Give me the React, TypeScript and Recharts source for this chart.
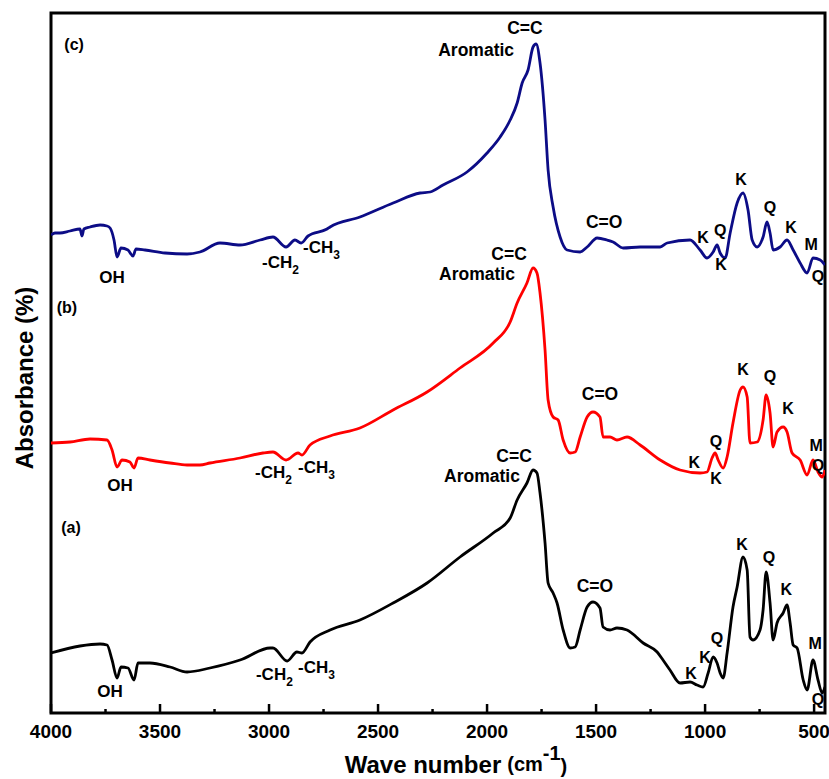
import React from 'react';
import { LineChart, Line, XAxis, YAxis, ReferenceArea, ReferenceDot } from 'recharts';

// Wavenumbers (cm-1) and absorbance (arbitrary, stacked) for each spectrum
const wnC = [4000, 3982, 3959, 3913, 3867, 3858, 3849, 3821, 3775, 3743, 3729, 3711, 3697, 3679, 3647, 3624, 3610, 3569, 3477, 3376, 3317, 3225, 3133, 3041, 2982, 2922, 2881, 2853, 2821, 2734, 2720, 2583, 2431, 2307, 2261, 2202, 2092, 2000, 1940, 1894, 1862, 1839, 1812, 1789, 1775, 1757, 1734, 1720, 1697, 1665, 1633, 1573, 1541, 1495, 1450, 1422, 1376, 1298, 1206, 1174, 1069, 1023, 991, 963, 945, 931, 908, 885, 853, 826, 803, 784, 761, 734, 716, 702, 688, 656, 624, 596, 564, 532, 505, 472, 450];
const absC = [478, 480, 480, 482, 484, 477, 484, 486, 488, 487, 485, 473, 456, 465, 463, 457, 464, 463, 460, 459, 461, 470, 468, 473, 476, 466, 473, 470, 477, 484, 486, 496, 510, 520, 521, 528, 541, 560, 576, 593, 610, 630, 643, 666, 669, 650, 593, 543, 506, 476, 463, 461, 466, 475, 473, 471, 465, 466, 466, 470, 473, 463, 455, 461, 468, 460, 455, 480, 510, 520, 503, 473, 466, 476, 491, 480, 463, 466, 473, 463, 450, 440, 455, 453, 448];

const wnB = [4000, 3913, 3821, 3743, 3720, 3697, 3674, 3638, 3619, 3601, 3546, 3454, 3376, 3317, 3271, 3133, 3028, 2982, 2922, 2867, 2849, 2812, 2720, 2583, 2431, 2275, 2124, 1972, 1894, 1862, 1817, 1789, 1771, 1757, 1734, 1720, 1697, 1674, 1651, 1619, 1596, 1573, 1541, 1514, 1482, 1468, 1436, 1404, 1358, 1298, 1206, 1115, 1023, 991, 968, 954, 940, 917, 899, 872, 839, 826, 807, 794, 761, 734, 720, 702, 688, 670, 642, 624, 601, 564, 532, 505, 482, 463, 450];
const absB = [270, 271, 274, 273, 263, 246, 253, 251, 245, 255, 253, 250, 248, 248, 250, 255, 260, 261, 253, 260, 258, 268, 277, 285, 303, 321, 345, 370, 391, 410, 430, 445, 440, 420, 363, 313, 296, 293, 273, 260, 261, 276, 296, 301, 296, 276, 276, 273, 276, 268, 253, 243, 240, 241, 255, 260, 253, 245, 256, 290, 323, 326, 316, 270, 271, 293, 318, 300, 266, 281, 286, 281, 260, 253, 238, 253, 241, 236, 243];

const wnA = [4000, 3867, 3775, 3743, 3720, 3697, 3679, 3647, 3619, 3601, 3546, 3454, 3376, 3271, 3133, 2995, 2982, 2917, 2872, 2849, 2812, 2720, 2583, 2431, 2275, 2124, 1972, 1894, 1862, 1817, 1789, 1771, 1757, 1734, 1720, 1697, 1679, 1651, 1619, 1596, 1573, 1541, 1514, 1482, 1468, 1436, 1404, 1358, 1284, 1220, 1193, 1161, 1115, 1069, 1037, 1009, 986, 963, 945, 931, 917, 899, 872, 853, 826, 807, 794, 780, 748, 734, 720, 702, 688, 670, 642, 624, 610, 596, 578, 550, 532, 505, 482, 463, 450];
const absA = [60, 67, 69, 68, 53, 35, 46, 45, 33, 50, 50, 46, 41, 45, 53, 65, 65, 52, 61, 60, 71, 83, 93, 110, 130, 156, 180, 195, 213, 230, 243, 240, 220, 170, 130, 120, 110, 83, 65, 66, 83, 106, 111, 105, 86, 83, 85, 83, 70, 61, 53, 43, 30, 31, 28, 26, 40, 56, 50, 40, 35, 60, 106, 126, 156, 143, 76, 73, 83, 103, 141, 110, 73, 90, 100, 108, 90, 68, 65, 33, 23, 53, 33, 20, 26];

const xTicks = [4000, 3750, 3500, 3250, 3000, 2750, 2500, 2250, 2000, 1750, 1500, 1250, 1000, 750, 500];

// Annotation labels: text, wavenumber position, absorbance position (baseline)
const labelText = ['(c)', 'OH', '-CH|2', '-CH|3', 'C=C', 'Aromatic', 'C=O', 'K', 'Q', 'K', 'K', 'Q', 'K', 'M', 'Q',
  '(b)', 'OH', '-CH|2', '-CH|3', 'C=C', 'Aromatic', 'C=O', 'K', 'Q', 'K', 'K', 'Q', 'K', 'M', 'Q',
  '(a)', 'OH', '-CH|2', '-CH|3', 'C=C', 'Aromatic', 'C=O', 'K', 'K', 'Q', 'K', 'Q', 'K', 'M', 'Q'];
const labelWn = [3894, 3720, 3032, 2844, 1826, 2050, 1463, 1009, 931, 927, 835, 702, 606, 514, 482,
  3927, 3683, 3064, 2867, 1899, 2046, 1482, 1050, 950, 950, 826, 702, 619, 491, 482,
  3908, 3729, 3060, 2867, 1876, 2023, 1505, 1064, 1000, 945, 830, 707, 628, 495, 482];
const labelAbs = [663, 430, 445, 460, 679, 657, 485, 470, 477, 443, 528, 500, 480, 463, 431,
  400, 222, 235, 240, 453, 433, 313, 245, 266, 229, 338, 331, 299, 262, 242,
  180, 16, 33, 40, 251, 231, 121, 34, 50, 69, 163, 150, 118, 64, 8];

const FONT = '"Liberation Sans", Arial, Helvetica, sans-serif';

const annotations = labelText.map((t, i) => ({ t, x: labelWn[i], y: labelAbs[i] }));

const AnnText = ({ cx, cy, t }: any) => {
  if (cx == null || cy == null) return null;
  if (t.includes('|')) {
    const [main, sub] = t.split('|');
    return (
      <text x={cx} y={cy} textAnchor="start" fontFamily={FONT} fontWeight="bold" fontSize={17} fill="#000">
        {main}
        <tspan fontSize={12} dy={6}>{sub}</tspan>
      </text>
    );
  }
  let size = 16;
  if (t.startsWith('(')) size = 16;
  else if (t === 'OH') size = 17;
  else if (t.length > 1) size = 17.5;
  return (
    <text x={cx} y={cy} textAnchor="middle" fontFamily={FONT} fontWeight="bold" fontSize={size} fill="#000">
      {t}
    </text>
  );
};

const XTick = ({ x, y, payload }: any) => {
  const v = payload.value;
  const major = v % 500 === 0;
  return (
    <g>
      <line x1={x} y1={y} x2={x} y2={y - (major ? 9 : 4)} stroke="#000" strokeWidth={2.5} />
      {major && (
        <text x={x} y={y + 25} textAnchor="middle" fontFamily={FONT} fontWeight="bold" fontSize={19} fill="#000">
          {v}
        </text>
      )}
    </g>
  );
};

const XTitle = ({ viewBox }: any) => {
  const cx = viewBox.x + viewBox.width / 2 + 18;
  const by = viewBox.y + 60;
  return (
    <text x={cx} y={by} textAnchor="middle" fontFamily={FONT} fontWeight="bold" fontSize={24} fill="#000">
      Wave number
      <tspan fontSize={20} dx={6} dy={-2}>(cm</tspan>
      <tspan fontSize={20} dy={-11}>-1</tspan>
      <tspan fontSize={20} dy={13}>)</tspan>
    </text>
  );
};

const YTitle = ({ viewBox }: any) => {
  const x = viewBox.x + viewBox.width - 18;
  const y = viewBox.y + viewBox.height / 2 + 15;
  return (
    <text x={x} y={y} transform={`rotate(-90, ${x}, ${y})`} textAnchor="middle" fontFamily={FONT} fontWeight="bold" fontSize={24} fill="#000">
      Absorbance (%)
    </text>
  );
};

const toSeries = (wn: number[], ab: number[]) => wn.map((w, i) => ({ wn: w, v: ab[i] }));
const dataC = toSeries(wnC, absC);
const dataB = toSeries(wnB, absB);
const dataA = toSeries(wnA, absA);

export default function App() {
  return (
    <div style={{ position: 'absolute', left: 0, top: 0, background: '#fff' }}>
      <LineChart width={829} height={779} margin={{ top: 13, right: 4, bottom: 0, left: 0 }}>
        <XAxis
          type="number"
          dataKey="wn"
          domain={[450, 4000]}
          reversed
          allowDataOverflow
          ticks={xTicks}
          interval={0}
          height={66}
          tickSize={0}
          tickMargin={0}
          axisLine={false}
          tickLine={false}
          tick={<XTick />}
          label={{ content: (p: any) => <XTitle {...p} /> }}
        />
        <YAxis
          type="number"
          domain={[0, 700]}
          allowDataOverflow
          width={51}
          tick={false}
          axisLine={false}
          tickLine={false}
          label={{ content: (p: any) => <YTitle {...p} /> }}
        />
        <Line data={dataA} dataKey="v" type="monotone" stroke="#000000" strokeWidth={2.8} dot={false} isAnimationActive={false} />
        <Line data={dataB} dataKey="v" type="monotone" stroke="#ff0000" strokeWidth={2.8} dot={false} isAnimationActive={false} />
        <Line data={dataC} dataKey="v" type="monotone" stroke="#0c0c86" strokeWidth={2.8} dot={false} isAnimationActive={false} />
        <ReferenceArea x1={4000} x2={450} y1={0} y2={700} fill="none" stroke="#000" strokeWidth={3} />
        {annotations.map((a, i) => (
          <ReferenceDot key={i} x={a.x} y={a.y} r={1} shape={(p: any) => <AnnText {...p} t={a.t} />} />
        ))}
      </LineChart>
    </div>
  );
}
